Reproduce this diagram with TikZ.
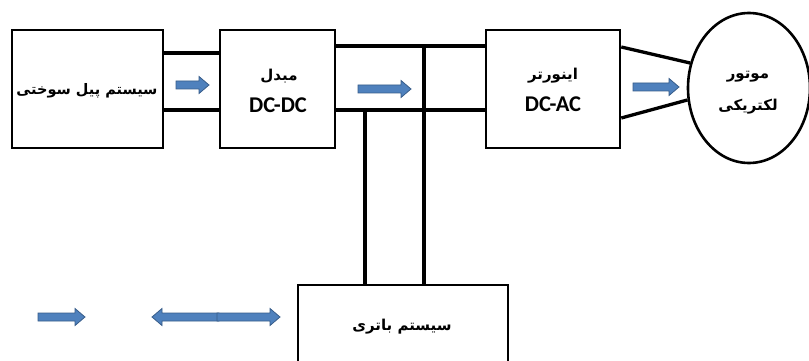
\documentclass[tikz,border=0pt]{standalone}
\usepackage{fontspec}
\usetikzlibrary{shapes.geometric}
\TeXXeTstate=1
\newfontfamily\arabicfont[Script=Arabic]{DejaVu Sans}
\newfontfamily\latinfont{Carlito}
\definecolor{arrfill}{HTML}{4F81BD}
\definecolor{arrdraw}{HTML}{385D8A}
\newcommand\fa[1]{{\arabicfont\bfseries\beginR #1\endR}}
\newcommand\lat[1]{{\latinfont\bfseries #1}}
\tikzset{
  blk/.style={draw, line width=2.6pt, inner sep=0pt, fill=white},
  wire/.style={line width=3.3pt},
  blockarr/.style={fill=arrfill, draw=arrdraw, line width=0.8pt, line join=miter},
  fatxt/.style={inner sep=0pt, font=\fontsize{15}{17}\selectfont},
  latxt/.style={inner sep=0pt, font=\fontsize{22.5}{24}\selectfont},
}
% right-pointing block arrow: x1, x2 (tip), y
\newcommand\rarr[3]{\filldraw[blockarr] (#1,#3-4) -- (#2-10,#3-4) -- (#2-10,#3-8.5) -- (#2,#3) -- (#2-10,#3+8.5) -- (#2-10,#3+4) -- (#1,#3+4) -- cycle;}
% left-pointing block arrow: x1 (tip), x2, y
\newcommand\larr[3]{\filldraw[blockarr] (#2,#3-4) -- (#1+10,#3-4) -- (#1+10,#3-8.5) -- (#1,#3) -- (#1+10,#3+8.5) -- (#1+10,#3+4) -- (#2,#3+4) -- cycle;}
\begin{document}
\begin{tikzpicture}[x=1pt, y=-1pt]
\useasboundingbox (0,0) rectangle (809,361);
\clip (0,0) rectangle (809,361);
\fill[white] (0,0) rectangle (809,361);

% boxes
\node[blk, minimum width=151pt, minimum height=118pt] (fc) at (87.5,89) {};
\node[blk, minimum width=115pt, minimum height=118pt] (dc) at (277.5,89) {};
\node[blk, minimum width=134pt, minimum height=118pt] (inv) at (553,89) {};
\node[blk, ellipse, minimum width=122pt, minimum height=150pt] (mot) at (749,88) {};
\node[blk, minimum width=210pt, minimum height=84pt] (bat) at (403,327) {};

% junction points
\coordinate (j1) at (365,110);
\coordinate (j2) at (424,46);

% wires
\draw[wire] (fc.east |- 0,53) -- (dc.west |- 0,53);
\draw[wire] (fc.east |- 0,110) -- (dc.west |- 0,110);
\draw[wire] (dc.east |- j2) -- (inv.west |- j2);
\draw[wire] (dc.east |- j1) -- (inv.west |- j1);
\draw[wire] (j1) -- (bat.north -| j1);
\draw[wire] (j2) -- (bat.north -| j2);
\draw[wire] (inv.east |- 0,47) -- (mot.157);
\draw[wire] (inv.east |- 0,118) -- (mot.191);

% texts
\node[fatxt, font=\fontsize{14.5}{17}\selectfont] (t1) at (87,91) {\fa{سیستم پیل سوختی}};
\node[fatxt] (t2) at (279,76) {\fa{مبدل}};
\node[latxt] (t3) at (278,105) {\lat{DC-DC}};
\node[fatxt] (t4) at (553,76) {\fa{اینورتر}};
\node[latxt] (t5) at (553,104) {\lat{DC-AC}};
\node[fatxt] (t6) at (748,77) {\fa{موتور}};
\node[fatxt] (t7) at (748,107) {\fa{لکتریکی}};
\node[fatxt] (t8) at (402,327) {\fa{سیستم باتری}};

% flow arrows
\rarr{176}{209}{85}
\rarr{358}{411}{89}
\rarr{633}{679}{87}
% legend arrows
\rarr{38}{85}{317}
\larr{152}{219}{317}
\rarr{217}{280}{317}
\end{tikzpicture}
\end{document}
